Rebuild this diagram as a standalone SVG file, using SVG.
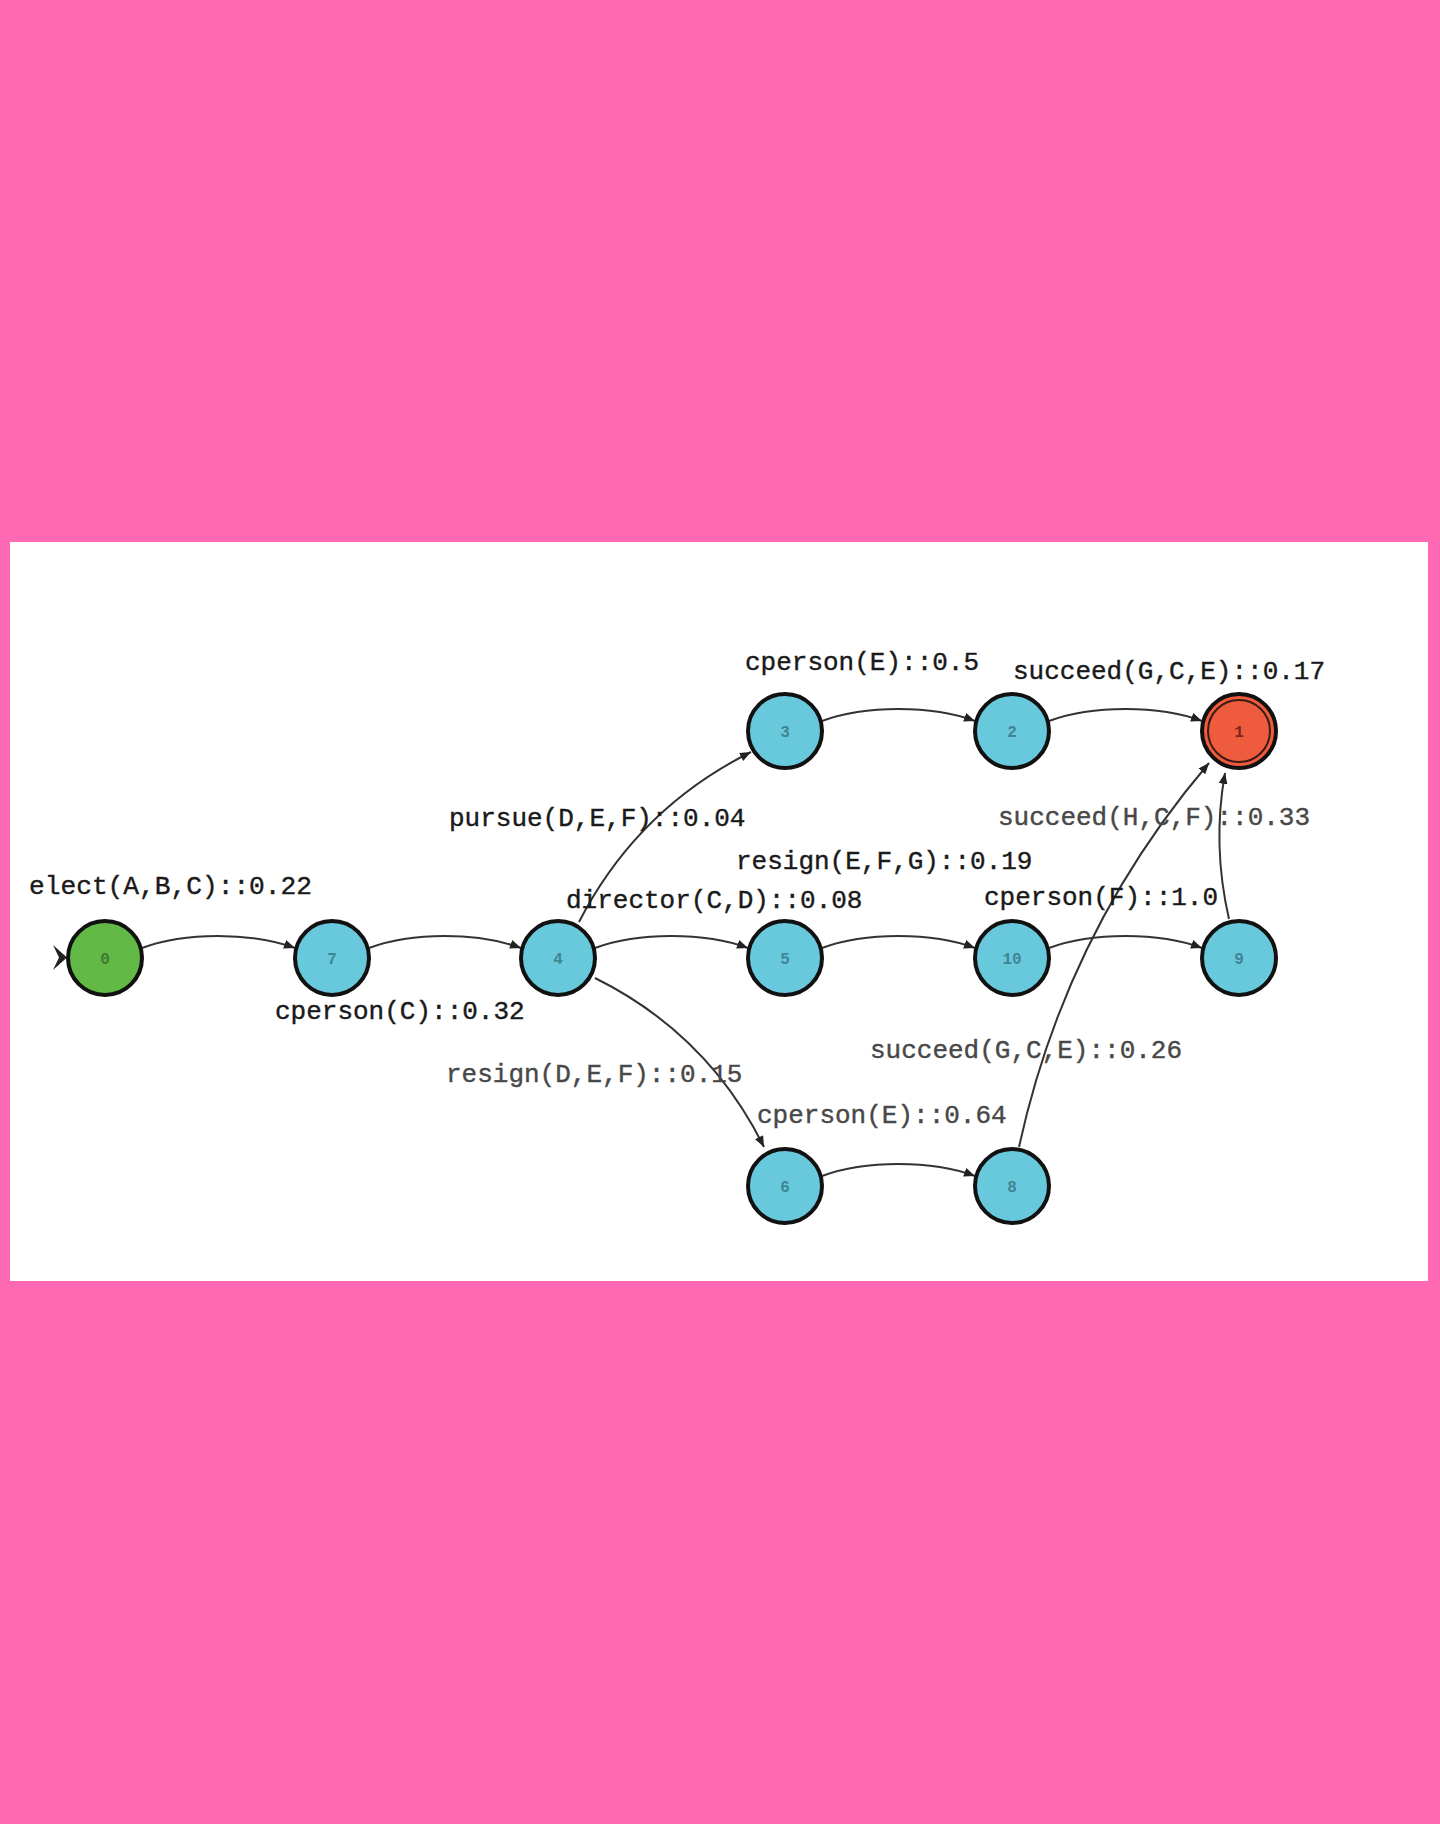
<svg xmlns="http://www.w3.org/2000/svg" width="1440" height="1824" viewBox="0 0 1440 1824">
<style>
.bg{fill:#ff69b4}
.panel{fill:#ffffff}
.node circle{stroke:#111;stroke-width:4}
.cy{fill:#68c9dc}
.gr{fill:#62b946}
.rd{fill:#ef5b3d}
.nl{font-family:"Liberation Mono","DejaVu Sans Mono",monospace;font-size:16px;font-weight:bold;text-anchor:middle;fill:#3f8594}
.edge{fill:none;stroke:#333;stroke-width:2}
.lbl{font-family:"Liberation Mono","DejaVu Sans Mono",monospace;font-size:26px;fill:#1a1a1a;stroke:#1a1a1a;stroke-width:0.4}
.lbl2{fill:#484848;stroke:#484848}
</style>
<defs>
<marker id="arr" markerUnits="userSpaceOnUse" markerWidth="12" markerHeight="9" refX="11" refY="4.5" orient="auto">
<path d="M0,0 L11,4.5 L0,9 Z" fill="#222"/>
</marker>
</defs>
<rect class="bg" x="0" y="0" width="1440" height="1824"/>
<rect class="panel" x="10" y="542" width="1418" height="739"/>

<g id="connectors">
<path class="edge" marker-end="url(#arr)" d="M142,948 C185,932 250,932 295,948"/>
<path class="edge" marker-end="url(#arr)" d="M369,948 C412,932 477,932 521,948"/>
<path class="edge" marker-end="url(#arr)" d="M595,948 C638,932 705,932 748,948"/>
<path class="edge" marker-end="url(#arr)" d="M822,948 C865,932 932,932 975,948"/>
<path class="edge" marker-end="url(#arr)" d="M1049,948 C1092,932 1159,932 1202,948"/>
<path class="edge" marker-end="url(#arr)" d="M822,721 C865,705 932,705 975,721"/>
<path class="edge" marker-end="url(#arr)" d="M1049,721 C1092,705 1159,705 1202,721"/>
<path class="edge" marker-end="url(#arr)" d="M822,1176 C865,1160 932,1160 975,1176"/>
<path class="edge" marker-end="url(#arr)" d="M579,922 Q637,809 751,752"/>
<path class="edge" marker-end="url(#arr)" d="M595,978 Q708,1034 764,1147"/>
<path class="edge" marker-end="url(#arr)" d="M1019,1147 Q1066,931 1209,763"/>
<path class="edge" marker-end="url(#arr)" d="M1229,919 Q1212,845 1225,773"/>
<path d="M53,945 L67,957.5 L53,970 L59,957.5 Z" fill="#222"/>
</g>

<g id="n0" class="node"><circle class="gr" cx="105" cy="958" r="37"/><text class="nl" x="105" y="964" style="fill:#3d7a30">0</text></g>
<g id="n7" class="node"><circle class="cy" cx="332" cy="958" r="37"/><text class="nl" x="332" y="964">7</text></g>
<g id="n4" class="node"><circle class="cy" cx="558" cy="958" r="37"/><text class="nl" x="558" y="964">4</text></g>
<g id="n5" class="node"><circle class="cy" cx="785" cy="958" r="37"/><text class="nl" x="785" y="964">5</text></g>
<g id="n10" class="node"><circle class="cy" cx="1012" cy="958" r="37"/><text class="nl" x="1012" y="964">10</text></g>
<g id="n9" class="node"><circle class="cy" cx="1239" cy="958" r="37"/><text class="nl" x="1239" y="964">9</text></g>
<g id="n3" class="node"><circle class="cy" cx="785" cy="731" r="37"/><text class="nl" x="785" y="737">3</text></g>
<g id="n2" class="node"><circle class="cy" cx="1012" cy="731" r="37"/><text class="nl" x="1012" y="737">2</text></g>
<g id="n1" class="node"><circle class="rd" cx="1239" cy="731" r="37"/><circle cx="1239" cy="731" r="31" fill="none" style="stroke:#3a1a14;stroke-width:2"/><text class="nl" x="1239" y="737" style="fill:#7a2a1a">1</text></g>
<g id="n6" class="node"><circle class="cy" cx="785" cy="1186" r="37"/><text class="nl" x="785" y="1192">6</text></g>
<g id="n8" class="node"><circle class="cy" cx="1012" cy="1186" r="37"/><text class="nl" x="1012" y="1192">8</text></g>

<g id="labels">
<text class="lbl" x="29" y="894" textLength="283" lengthAdjust="spacingAndGlyphs">elect(A,B,C)::0.22</text>
<text class="lbl" x="275" y="1019">cperson(C)::0.32</text>
<text class="lbl" x="449" y="826">pursue(D,E,F)::0.04</text>
<text class="lbl" x="566" y="908">director(C,D)::0.08</text>
<text class="lbl" x="736" y="869">resign(E,F,G)::0.19</text>
<text class="lbl" x="745" y="670">cperson(E)::0.5</text>
<text class="lbl" x="1013" y="679">succeed(G,C,E)::0.17</text>
<text class="lbl lbl2" x="998" y="825">succeed(H,C,F)::0.33</text>
<text class="lbl" x="984" y="905">cperson(F)::1.0</text>
<text class="lbl lbl2" x="446" y="1082">resign(D,E,F)::0.15</text>
<text class="lbl lbl2" x="870" y="1058">succeed(G,C,E)::0.26</text>
<text class="lbl lbl2" x="757" y="1123">cperson(E)::0.64</text>
</g>
</svg>
